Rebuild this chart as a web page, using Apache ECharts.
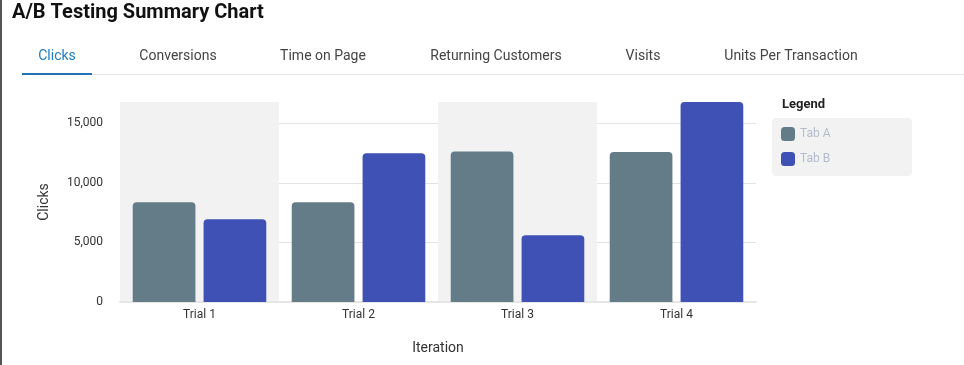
<!DOCTYPE html>
<html><head><meta charset="utf-8">
<style>html,body{margin:0;padding:0;background:#fff}#c{width:964px;height:365px}</style>
<script src="https://cdn.jsdelivr.net/npm/echarts@6/dist/echarts.min.js"></script>
</head><body><div id="c"></div>
<script>
const categories = ['Trial 1', 'Trial 2', 'Trial 3', 'Trial 4'];
const tabA = [8380, 8380, 12650, 12600];
const tabB = [6950, 12500, 5600, 16800];
const seriesNames = ['Tab A', 'Tab B'];
const tabs = ['Clicks', 'Conversions', 'Time on Page', 'Returning Customers', 'Visits', 'Units Per Transaction'];
const tabCenters = [57, 178, 323, 496, 643, 791];

const chart = echarts.init(document.getElementById('c'));
const font = 'Roboto';
const tabGraphics = tabs.map((t, i) => ({
  type: 'text', x: tabCenters[i], y: 49,
  style: { text: t, fill: i === 0 ? '#1f7dc4' : '#444', font: '14px Roboto', align: 'center', verticalAlign: 'top' }
}));

chart.setOption({
  animation: false,
  textStyle: { fontFamily: font },
  color: ['#647b88', '#3f51b5'],
  graphic: [
    { type: 'rect', shape: { x: 0, y: 0, width: 2, height: 365 }, style: { fill: '#555' } },
    { type: 'text', x: 12, y: 3, style: { text: 'A/B Testing Summary Chart', fill: '#111', font: 'bold 20px Roboto', verticalAlign: 'top' } },
    { type: 'rect', shape: { x: 22, y: 74, width: 942, height: 1 }, style: { fill: '#e4e4e4' } },
    { type: 'rect', shape: { x: 22, y: 73, width: 70, height: 2 }, style: { fill: '#1f74b8' } },
    { type: 'rect', shape: { x: 772, y: 118, width: 140, height: 58, r: 4 }, style: { fill: '#f2f2f2' } },
    { type: 'text', x: 782, y: 98, style: { text: 'Legend', fill: '#222', font: 'bold 13px Roboto', verticalAlign: 'top' } }
  ].concat(tabGraphics),
  legend: {
    data: seriesNames, orient: 'vertical', left: 776, top: 122,
    itemWidth: 14, itemHeight: 14, itemGap: 11, icon: 'roundRect',
    textStyle: { color: '#b4bccc', fontSize: 12, fontFamily: font }
  },
  grid: { left: 120, right: 208, top: 102, bottom: 63 },
  xAxis: {
    type: 'category', data: categories,
    name: 'Iteration', nameLocation: 'middle', nameGap: 39,
    nameTextStyle: { fontSize: 14, color: '#333', fontFamily: font },
    axisLine: { lineStyle: { color: '#e6e6e6', width: 2 } },
    axisTick: { show: false },
    axisLabel: { color: '#333', fontSize: 12, margin: 7 },
    splitArea: { show: true, areaStyle: { color: ['#f2f2f2', 'rgba(255,255,255,0)'] } }
  },
  yAxis: {
    type: 'value', min: 0, max: 'dataMax', interval: 5000,
    name: 'Clicks', nameLocation: 'middle', nameGap: 69, nameRotate: 90,
    nameTextStyle: { fontSize: 14, color: '#333', fontFamily: font },
    axisLine: { show: false }, axisTick: { show: false },
    axisLabel: { color: '#333', fontSize: 12, margin: 17, showMaxLabel: false },
    splitLine: { showMaxLine: false, lineStyle: { color: '#e2e2e2' } }
  },
  series: [
    { name: seriesNames[0], type: 'bar', data: tabA, barGap: '13%', barCategoryGap: '16%',
      itemStyle: { borderRadius: [4, 4, 0, 0] } },
    { name: seriesNames[1], type: 'bar', data: tabB,
      itemStyle: { borderRadius: [4, 4, 0, 0] } }
  ]
});
</script></body></html>
